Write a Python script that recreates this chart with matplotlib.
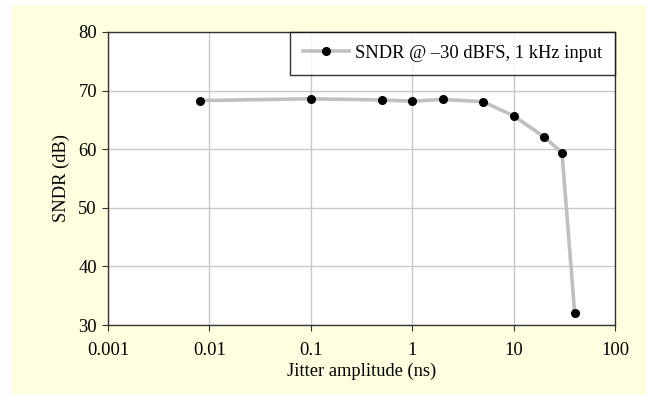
import matplotlib
matplotlib.use("Agg")
import matplotlib.pyplot as plt
from matplotlib.patches import Rectangle
from matplotlib.ticker import FixedLocator, FixedFormatter, NullLocator

# ==========================
# DATA
# ==========================
jitter_ns = [0.008, 0.1, 0.5, 1, 2, 5, 10, 20, 30, 40]
sndr_db = [68.3, 68.6, 68.4, 68.2, 68.5, 68.1, 65.7, 62.1, 59.4, 32.1]

x_ticks = [0.001, 0.01, 0.1, 1, 10, 100]
x_tick_labels = ["0.001", "0.01", "0.1", "1", "10", "100"]
y_ticks = [30, 40, 50, 60, 70, 80]

FS = 13.3

plt.rcParams["font.family"] = ["Liberation Serif", "DejaVu Serif"]

fig = plt.figure(figsize=(6.46, 3.96), dpi=100)
fig.patch.set_facecolor("white")

# pale yellow chart area (behind the axes)
bg = Rectangle((12 / 646, 1 - 395 / 396), 634 / 646, 390 / 396,
               transform=fig.transFigure, facecolor="#FFFFE0",
               edgecolor="none", zorder=-10)
fig.add_artist(bg)

ax = fig.add_axes([108 / 646, 1 - 325 / 396, 507 / 646, 293 / 396])
ax.set_zorder(1)
ax.set_facecolor("white")

ax.plot(jitter_ns, sndr_db, color="#c0c0c0", linewidth=2.6,
        marker="o", markersize=5.5, markerfacecolor="black",
        markeredgecolor="black", label="SNDR @ \u201330 dBFS, 1 kHz input",
        zorder=3)

ax.set_xscale("log")
ax.set_xlim(0.001, 100)
ax.set_ylim(30, 80)
ax.xaxis.set_major_locator(FixedLocator(x_ticks))
ax.xaxis.set_major_formatter(FixedFormatter(x_tick_labels))
ax.xaxis.set_minor_locator(NullLocator())
ax.set_yticks(y_ticks)

ax.grid(True, color="#c8c8c8", linewidth=1)
ax.set_axisbelow(True)
for s in ax.spines.values():
    s.set_color("#333333")
    s.set_linewidth(1)

ax.tick_params(axis="both", direction="out", length=4, width=0.8,
               color="#333333", labelsize=FS)
ax.tick_params(axis="x", pad=8)
ax.tick_params(axis="y", pad=4)

ax.set_xlabel("Jitter amplitude (ns)", fontsize=FS, labelpad=3)
ax.set_ylabel("SNDR (dB)", fontsize=FS, labelpad=6)

leg = ax.legend(loc="upper right", borderaxespad=0, fontsize=FS,
                frameon=True, fancybox=False, handlelength=2.5,
                borderpad=0.7, handletextpad=0.3)
leg.get_frame().set_edgecolor("black")
leg.get_frame().set_linewidth(1)

fig.savefig("out.png", dpi=100, facecolor=fig.get_facecolor())
